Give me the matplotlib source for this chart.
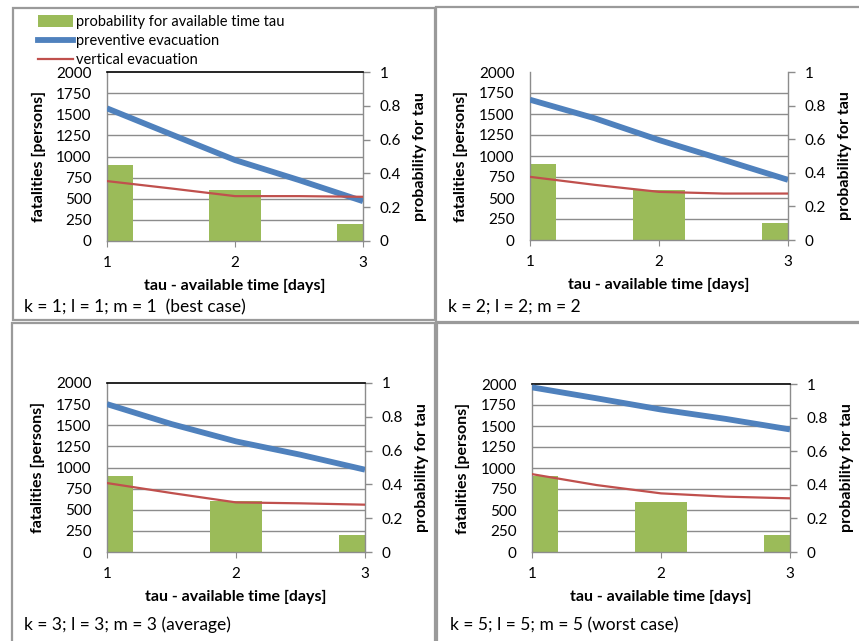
import matplotlib
matplotlib.use("Agg")
import matplotlib.pyplot as plt
from matplotlib.patches import Rectangle, Patch
from matplotlib.lines import Line2D
import numpy as np

plt.rcParams['font.family'] = ['Lato', 'DejaVu Sans']

W, H = 859, 641

# ---- data ----
tau = [1, 1.5, 2, 2.5, 3]
bar_tau = [1, 2, 3]
prob_tau = [0.45, 0.3, 0.1]

preventive_1 = [1570, 1263, 958, 721, 471]
vertical_1 = [709, 622, 531, 531, 523]
preventive_2 = [1670, 1450, 1190, 955, 716]
vertical_2 = [752, 657, 573, 553, 553]
preventive_3 = [1750, 1514, 1309, 1151, 974]
vertical_3 = [816, 698, 587, 576, 560]
preventive_5 = [1960, 1830, 1696, 1585, 1459]
vertical_5 = [927, 797, 698, 659, 639]

captions = ["k = 1; l = 1; m = 1  (best case)", "k = 2; l = 2; m = 2",
            "k = 3; l = 3; m = 3 (average)", "k = 5; l = 5; m = 5 (worst case)"]
left_ticks = [0, 250, 500, 750, 1000, 1250, 1500, 1750, 2000]
right_ticks = [0, 0.2, 0.4, 0.6, 0.8, 1]
right_tick_labels = ["0", "0.2", "0.4", "0.6", "0.8", "1"]
x_ticks = [1, 2, 3]

GREEN = "#9BBB59"
BLUE = "#4F81BD"
RED = "#C0504D"
GRAY = "#8C8C8C"

fig = plt.figure(figsize=(W / 100, H / 100), dpi=100)


def rect_px(l, t, r, b):
    return [l / W, 1 - b / H, (r - l) / W, (b - t) / H]


# panel frames
for (l, t, r, b) in [(13, 8, 435, 320), (436, 7, 870, 322), (12, 323, 435, 650), (437, 323, 870, 650)]:
    fig.add_artist(Rectangle((l / W, 1 - b / H), (r - l) / W, (b - t) / H,
                             transform=fig.transFigure, fill=False,
                             edgecolor="#9A9A9A", linewidth=1.6, zorder=0))

panels = [
    ((107, 72, 363, 241), preventive_1, vertical_1, captions[0], (24, 307), True),
    ((530, 72, 788, 240), preventive_2, vertical_2, captions[1], (448, 307), False),
    ((107, 383, 365, 552), preventive_3, vertical_3, captions[2], (24, 625), True),
    ((532, 384, 790, 552), preventive_5, vertical_5, captions[3], (450, 625), True),
]

for (box, prev, vert, cap, cpos, topline) in panels:
    ax = fig.add_axes(rect_px(*box))
    ax2 = ax.twinx()
    ax.set_zorder(ax2.get_zorder() + 1)
    ax.patch.set_visible(False)

    # bars on probability axis
    ax2.bar(bar_tau, prob_tau, width=0.4, color=GREEN, zorder=2)
    ax2.set_ylim(0, 1)
    ax2.set_yticks(right_ticks)
    ax2.set_yticklabels(right_tick_labels)
    ax2.set_yticks(np.arange(0.125, 0.876, 0.125), minor=True)
    ax2.grid(which='minor', axis='y', color=GRAY, linewidth=1.0)
    ax2.set_axisbelow(True)
    ax2.tick_params(axis='y', which='major', direction='out', length=5, width=1,
                    color=GRAY, pad=7, labelsize=11)
    ax2.tick_params(axis='y', which='minor', length=0)
    for s in ax2.spines.values():
        s.set_visible(False)
    ax2.set_ylabel("probability for tau", fontweight='bold', fontsize=11.5, rotation=90)
    ax2.yaxis.set_label_coords(1.195, 0.5)

    # lines on fatalities axis
    ax.plot(tau, prev, color=BLUE, linewidth=4.2, solid_capstyle='butt', zorder=3)
    ax.plot(tau, vert, color=RED, linewidth=1.6, zorder=4)
    ax.set_xlim(1, 3)
    ax.set_ylim(0, 2000)
    ax.set_yticks(left_ticks)
    ax.set_xticks(x_ticks)
    ax.tick_params(axis='y', length=0, pad=11, labelsize=11)
    ax.tick_params(axis='x', direction='out', length=4, color=GRAY, pad=7, labelsize=11)
    for k in ['left', 'right', 'bottom']:
        ax.spines[k].set_color(GRAY)
        ax.spines[k].set_linewidth(1.0)
    if topline:
        ax.spines['top'].set_color('black')
        ax.spines['top'].set_linewidth(1.2)
    else:
        ax.spines['top'].set_visible(False)
    ax.set_ylabel("fatalities [persons]", fontweight='bold', fontsize=11.5)
    ax.yaxis.set_label_coords(-0.24, 0.5)
    ax.set_xlabel("tau - available time [days]", fontweight='bold', fontsize=11.5)
    ax.xaxis.set_label_coords(0.5, -0.225)

    fig.text(cpos[0] / W, 1 - cpos[1] / H, cap, fontsize=12.5, va='center', ha='left')

    if box[0] == 107 and box[1] == 72:
        handles = [Patch(facecolor=GREEN, edgecolor='none'),
                   Line2D([], [], color=BLUE, linewidth=4.2),
                   Line2D([], [], color=RED, linewidth=1.6)]
        labels = ["probability for available time tau", "preventive evacuation", "vertical evacuation"]
        fig.legend(handles, labels, loc='upper left',
                   bbox_to_anchor=(38 / W, 1 - 15 / H), bbox_transform=fig.transFigure,
                   frameon=False, fontsize=10.5, handlelength=2.4, handleheight=0.8,
                   handletextpad=0.2, labelspacing=0.35, borderaxespad=0, borderpad=0)

fig.savefig("out.png", dpi=100)
